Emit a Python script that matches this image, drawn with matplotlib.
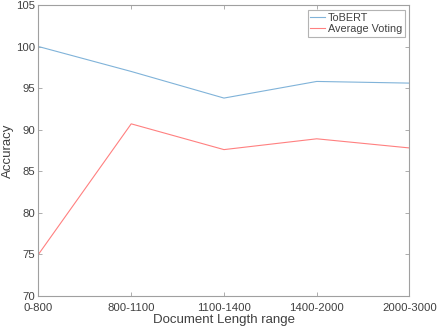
import matplotlib
matplotlib.use('Agg')
import matplotlib.pyplot as plt

# data
ranges = ['0-800', '800-1100', '1100-1400', '1400-2000', '2000-3000']
tobert = [100.0, 97.0, 93.8, 95.8, 95.6]
avg_voting = [75.0, 90.7, 87.6, 88.9, 87.8]

plt.rcParams['font.family'] = ['Liberation Sans', 'DejaVu Sans']

fig = plt.figure(figsize=(4.37, 3.31), dpi=100)
ax = fig.add_axes([0.088, 0.106, 0.849, 0.879])

x = list(range(len(ranges)))
ax.plot(x, tobert, color='#80b3d9', lw=0.8, label='ToBERT')
ax.plot(x, avg_voting, color='#ff8080', lw=0.8, label='Average Voting')

ax.set_xlim(0, len(ranges) - 1)
ax.set_ylim(70, 105)
ax.set_xticks(x)
ax.set_xticklabels(ranges)
ax.set_yticks(range(70, 106, 5))

txt = '#404040'
for s in ax.spines.values():
    s.set_color('#a0a0a0')
    s.set_linewidth(0.8)
ax.tick_params(direction='in', top=True, right=True, length=3, width=0.6,
               color='#a0a0a0', labelcolor=txt, labelsize=8.2)
ax.tick_params(axis='x', pad=5)
ax.tick_params(axis='y', pad=2.5)

ax.set_xlabel('Document Length range', fontsize=9.5, color=txt, labelpad=1)
ax.set_ylabel('Accuracy', fontsize=9.5, color=txt, labelpad=1.5)

leg = ax.legend(loc='upper right', fontsize=7.8, frameon=True, fancybox=False,
                handlelength=1.4, handletextpad=0.2, borderpad=0.25,
                labelspacing=0.15, borderaxespad=0.45)
leg.get_frame().set_edgecolor('#a0a0a0')
leg.get_frame().set_linewidth(0.8)
for t in leg.get_texts():
    t.set_color(txt)

fig.savefig('out.png', dpi=100)
